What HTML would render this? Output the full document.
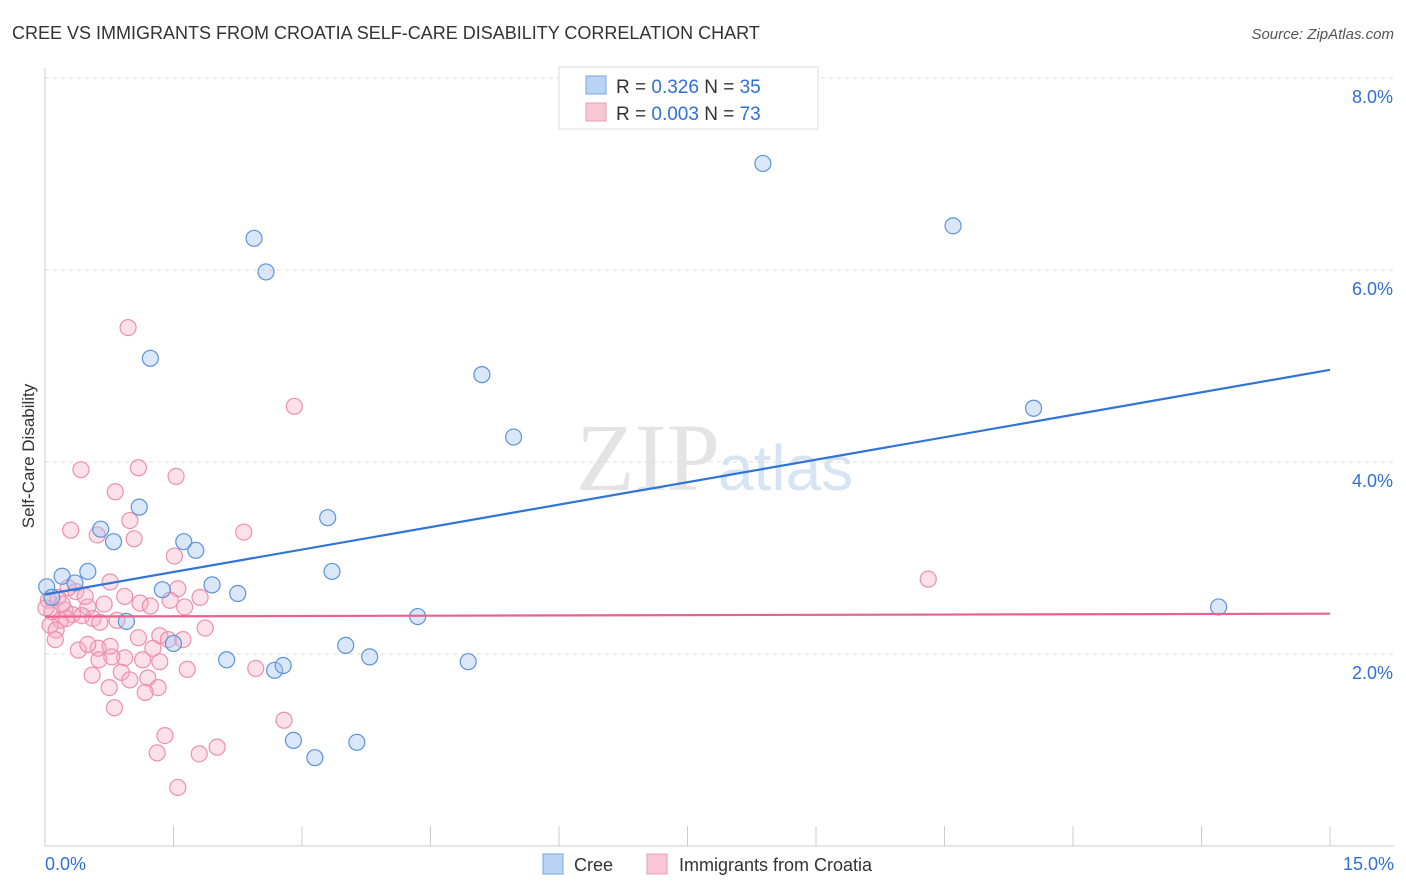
<!DOCTYPE html>
<html><head><meta charset="utf-8"><style>
body{margin:0;background:#fff;font-family:"Liberation Sans",sans-serif;}
svg{display:block}
</style></head><body>
<svg id="chart" width="1406" height="892">
<text x="12" y="39" font-size="18" fill="#333">CREE VS IMMIGRANTS FROM CROATIA SELF-CARE DISABILITY CORRELATION CHART</text>
<text x="1394" y="39" font-size="15" fill="#555" font-style="italic" text-anchor="end">Source: ZipAtlas.com</text>
<text x="720" y="490" font-size="96" fill="#e4e4e4" font-family="Liberation Serif,serif" text-anchor="end">ZIP</text>
<text x="718" y="490" font-size="64" fill="#d6e4f3" text-anchor="start">atlas</text>
<g id="grid"></g>
<g id="axes"></g>
<g id="marks"></g>
<text transform="translate(34,456) rotate(-90)" font-size="17" fill="#333" text-anchor="middle">Self-Care Disability</text>
<g>
<rect x="559" y="67" width="259" height="62" fill="#fff" stroke="#ddd"/>
<rect x="586" y="76" width="20" height="18" fill="#b9d3f3" stroke="#7aa7e0"/>
<text x="616" y="93" font-size="19" fill="#333">R = <tspan fill="#2f6fd6">0.326</tspan>   N = <tspan fill="#2f6fd6">35</tspan></text>
<rect x="586" y="103" width="20" height="18" fill="#f9c6d5" stroke="#ee9ab4"/>
<text x="616" y="120" font-size="19" fill="#333">R = <tspan fill="#2f6fd6">0.003</tspan>   N = <tspan fill="#2f6fd6">73</tspan></text>
</g>
<g>
<rect x="543" y="854" width="20" height="20" fill="#b9d3f3" stroke="#7aa7e0"/>
<text x="574" y="871" font-size="18" fill="#333">Cree</text>
<rect x="647" y="854" width="20" height="20" fill="#f9c6d5" stroke="#ee9ab4"/>
<text x="679" y="871" font-size="18" fill="#333">Immigrants from Croatia</text>
</g>
</svg>
<script>
const yTicks=[2,4,6,8];
const yTickLabels=["2.0%","4.0%","6.0%","8.0%"];
const xTickLabels=["0.0%","15.0%"];
const creeX=[0.02,0.2,0.35,0.5,0.08,0.65,0.8,1.1,1.23,0.95,1.37,1.5,1.62,1.76,1.95,2.12,2.25,2.44,2.58,2.68,2.78,2.9,3.15,3.3,3.35,3.51,3.64,3.79,4.35,4.94,5.1,5.47,8.38,10.6,11.54,13.7];
const creeY=[2.7,2.81,2.74,2.86,2.59,3.3,3.17,3.53,5.08,2.34,2.67,2.11,3.17,3.08,2.72,1.94,2.63,6.33,5.98,1.83,1.88,1.1,0.92,3.42,2.86,2.09,1.08,1.97,2.39,1.92,4.91,4.26,7.11,6.46,4.56,2.49];
const croX=[0.97,2.91,0.42,1.09,1.53,0.82,0.99,0.30,0.61,2.32,1.04,1.51,10.31,0.76,1.55,1.81,1.11,1.63,0.04,0.15,0.36,0.93,0.69,0.50,0.23,0.08,0.56,0.84,0.18,0.06,0.13,0.32,0.43,1.87,1.09,1.34,1.44,1.61,1.26,0.39,0.62,0.50,0.93,1.14,1.34,0.63,0.78,1.66,0.55,0.89,1.20,2.46,0.75,1.32,1.17,0.81,2.79,1.40,2.01,1.31,1.80,1.55,0.20,0.27,0.12,0.64,1.23,0.47,0.76,0.99,0.01,1.46,0.25];
const croY=[5.40,4.58,3.92,3.94,3.85,3.69,3.39,3.29,3.24,3.27,3.20,3.02,2.78,2.75,2.68,2.59,2.53,2.49,2.56,2.59,2.65,2.60,2.52,2.49,2.46,2.44,2.37,2.35,2.35,2.30,2.25,2.41,2.40,2.27,2.17,2.19,2.15,2.15,2.06,2.04,2.06,2.10,1.96,1.94,1.92,1.94,1.97,1.84,1.78,1.81,1.75,1.85,1.65,1.65,1.60,1.44,1.31,1.15,1.03,0.97,0.96,0.61,2.52,2.69,2.15,2.33,2.50,2.60,2.08,1.73,2.48,2.56,2.37];
const creeLine=[2.62,4.96];
const croLine=[2.39,2.42];
const NS="http://www.w3.org/2000/svg";
const X=v=>45+v*85.667, Y=v=>846-v*96;
function mk(tag,attrs,parent){const e=document.createElementNS(NS,tag);for(const k in attrs)e.setAttribute(k,attrs[k]);parent.appendChild(e);return e;}
const grid=document.getElementById('grid'),axes=document.getElementById('axes'),marks=document.getElementById('marks');
yTicks.forEach((t,i)=>{
 const l=mk('line',{x1:45,x2:1394,y1:Y(t),y2:Y(t),stroke:'#ddd','stroke-dasharray':'4,4'},grid);
 
 
 const tx=mk('text',{x:1393,y:Y(t)+25,'font-size':18,fill:'#2f6fd6','text-anchor':'end'},axes);
 tx.textContent=yTickLabels[i];
 
 
});
const xa=mk('line',{x1:45,x2:1394,y1:846,y2:846,stroke:'#ccc'},axes);


const ya=mk('line',{x1:45,x2:45,y1:68,y2:846,stroke:'#ccc'},axes);


for(let i=0;i<=10;i++){const t=mk('line',{x1:X(i*1.5),x2:X(i*1.5),y1:826,y2:846,stroke:'#ccc'},axes);
 
 }
[[0,'start',45],[15,'end',1394]].forEach((d,i)=>{const t=mk('text',{x:d[2],y:870,'font-size':18,fill:'#2f6fd6','text-anchor':d[1]},axes);t.textContent=xTickLabels[i];
 
 });
croX.forEach((v,i)=>{const c=mk('circle',{cx:X(v),cy:Y(croY[i]),r:8,fill:'rgba(247,170,195,0.35)',stroke:'#ee8fae','stroke-width':1.2},marks);
 
 });
creeX.forEach((v,i)=>{const c=mk('circle',{cx:X(v),cy:Y(creeY[i]),r:8,fill:'rgba(160,195,240,0.4)',stroke:'#5b93da','stroke-width':1.2},marks);
 
 });
const l1=mk('line',{x1:X(0),x2:X(15),y1:Y(creeLine[0]),y2:Y(creeLine[1]),stroke:'#2f74d6','stroke-width':2.2},marks);


const l2=mk('line',{x1:X(0),x2:X(15),y1:Y(croLine[0]),y2:Y(croLine[1]),stroke:'#e8628d','stroke-width':2.2},marks);


</script>
</body></html>
